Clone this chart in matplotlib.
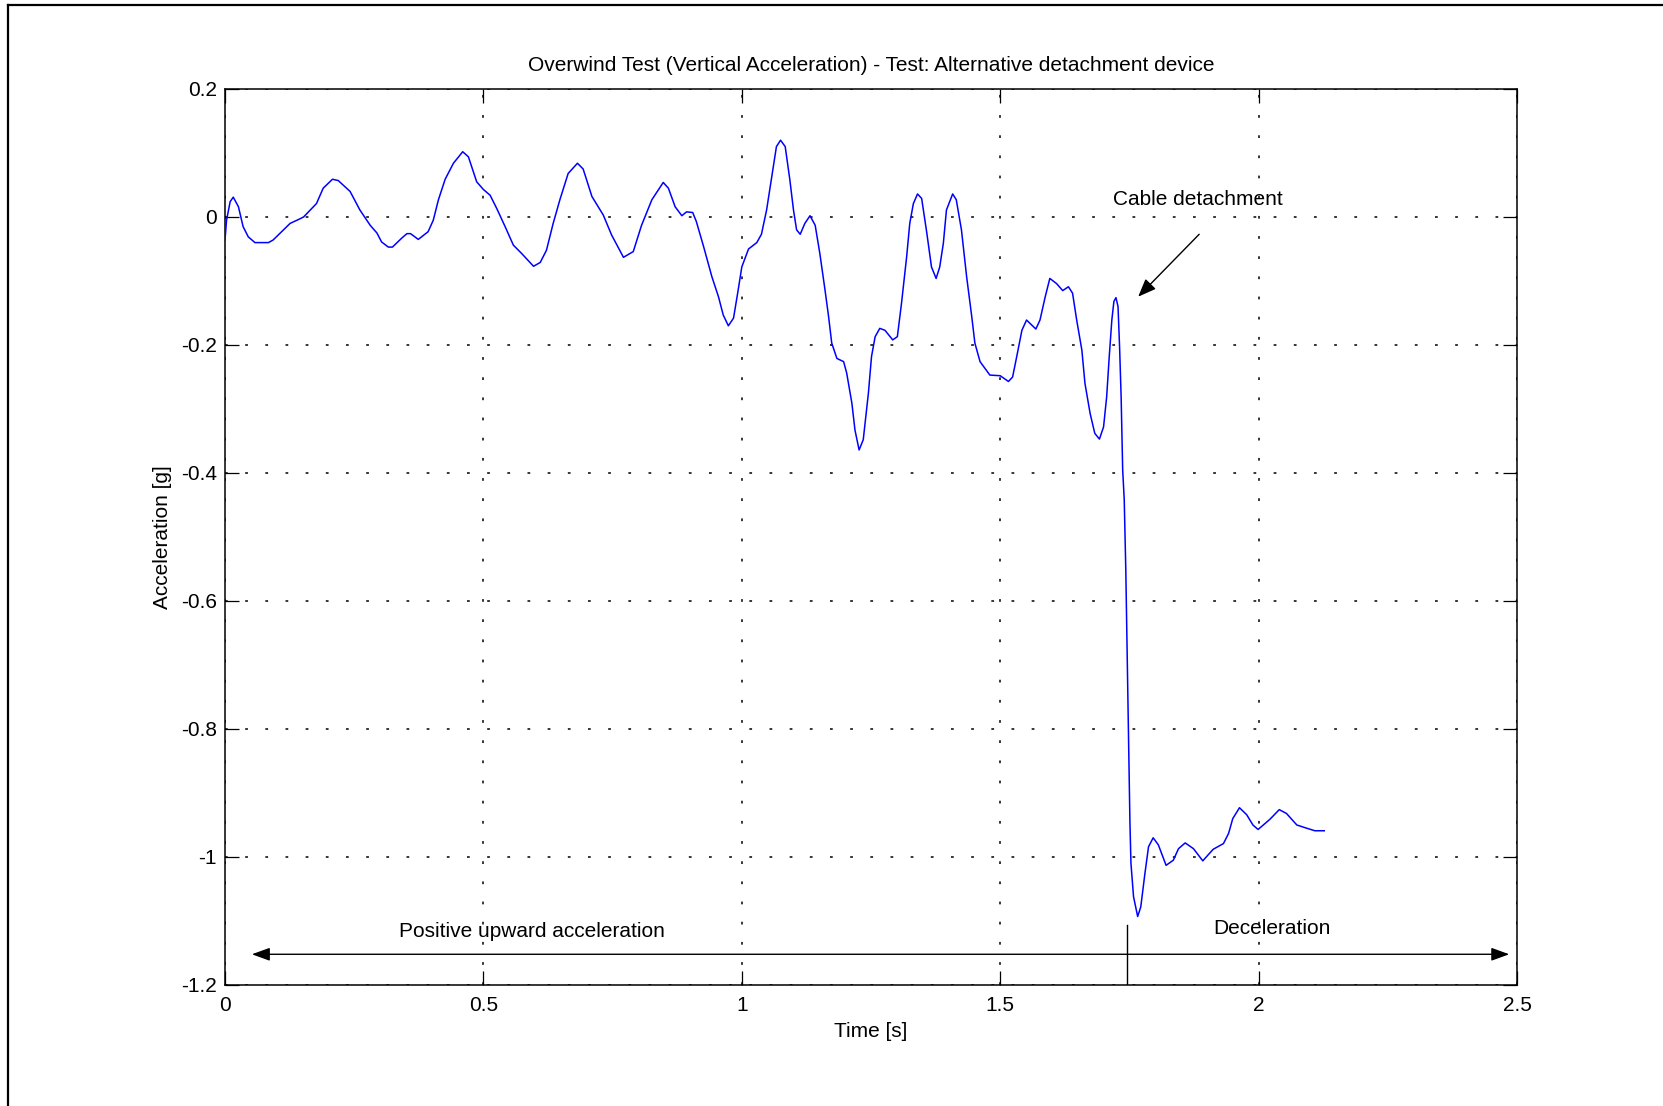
import matplotlib
matplotlib.use("Agg")
import matplotlib.pyplot as plt
from matplotlib.lines import Line2D

# Overwind test: vertical acceleration of the conveyance [g] against time [s]
time_s = [
    0.000, 0.003, 0.010, 0.016, 0.026, 0.035, 0.045, 0.058, 0.084, 0.093,
    0.126, 0.142, 0.152, 0.177, 0.190, 0.208, 0.219, 0.242, 0.261, 0.281,
    0.294, 0.303, 0.316, 0.324, 0.342, 0.352, 0.359, 0.374, 0.393, 0.403,
    0.413, 0.426, 0.442, 0.460, 0.471, 0.487, 0.500, 0.513, 0.526, 0.542,
    0.558, 0.574, 0.597, 0.610, 0.622, 0.635, 0.648, 0.664, 0.682, 0.693,
    0.710, 0.732, 0.748, 0.771, 0.790, 0.806, 0.826, 0.848, 0.858, 0.871,
    0.884, 0.893, 0.905, 0.912, 0.926, 0.942, 0.955, 0.964, 0.974, 0.984,
    0.993, 1.000, 1.013, 1.029, 1.038, 1.048, 1.058, 1.067, 1.075, 1.084,
    1.093, 1.100, 1.106, 1.113, 1.122, 1.132, 1.142, 1.151, 1.161, 1.168,
    1.174, 1.184, 1.197, 1.203, 1.213, 1.219, 1.227, 1.235, 1.245, 1.251,
    1.258, 1.267, 1.277, 1.292, 1.301, 1.309, 1.319, 1.325, 1.332, 1.340,
    1.348, 1.358, 1.367, 1.376, 1.383, 1.390, 1.396, 1.408, 1.415, 1.425,
    1.435, 1.445, 1.451, 1.461, 1.480, 1.500, 1.516, 1.524, 1.532, 1.542,
    1.551, 1.569, 1.577, 1.587, 1.596, 1.609, 1.621, 1.632, 1.640, 1.648,
    1.658, 1.664, 1.674, 1.683, 1.692, 1.700, 1.706, 1.711, 1.716, 1.720,
    1.724, 1.728, 1.731, 1.734, 1.737, 1.740, 1.743, 1.745, 1.747, 1.749,
    1.751, 1.753, 1.758, 1.766, 1.772, 1.780, 1.787, 1.796, 1.806, 1.821,
    1.835, 1.845, 1.858, 1.874, 1.892, 1.912, 1.932, 1.942, 1.950, 1.963,
    1.977, 1.989, 1.999, 2.022, 2.040, 2.054, 2.074, 2.093, 2.109, 2.127,
]
accel_g = [
    -0.036, -0.005, 0.024, 0.031, 0.016, -0.015, -0.031, -0.040, -0.040, -0.036,
    -0.010, -0.004, 0.000, 0.021, 0.045, 0.059, 0.057, 0.040, 0.011, -0.013,
    -0.025, -0.039, -0.047, -0.047, -0.033, -0.026, -0.026, -0.035, -0.023, -0.005,
    0.027, 0.059, 0.084, 0.102, 0.094, 0.055, 0.043, 0.034, 0.013, -0.015,
    -0.044, -0.057, -0.077, -0.071, -0.052, -0.010, 0.027, 0.068, 0.084, 0.075,
    0.032, 0.003, -0.028, -0.063, -0.054, -0.013, 0.027, 0.054, 0.045, 0.016,
    0.002, 0.008, 0.007, -0.007, -0.046, -0.093, -0.125, -0.153, -0.170, -0.158,
    -0.114, -0.078, -0.050, -0.040, -0.027, 0.011, 0.063, 0.110, 0.120, 0.110,
    0.058, 0.011, -0.020, -0.027, -0.010, 0.002, -0.013, -0.057, -0.114, -0.156,
    -0.197, -0.221, -0.226, -0.244, -0.291, -0.333, -0.364, -0.348, -0.275, -0.218,
    -0.187, -0.174, -0.177, -0.192, -0.187, -0.135, -0.062, -0.010, 0.021, 0.036,
    0.029, -0.025, -0.078, -0.096, -0.078, -0.041, 0.011, 0.036, 0.027, -0.020,
    -0.093, -0.156, -0.197, -0.226, -0.247, -0.248, -0.257, -0.250, -0.218, -0.177,
    -0.161, -0.175, -0.161, -0.125, -0.096, -0.104, -0.115, -0.109, -0.119, -0.161,
    -0.208, -0.260, -0.307, -0.338, -0.347, -0.328, -0.281, -0.218, -0.161, -0.132,
    -0.126, -0.140, -0.203, -0.281, -0.395, -0.442, -0.550, -0.650, -0.750, -0.850,
    -0.945, -1.010, -1.062, -1.093, -1.078, -1.026, -0.984, -0.970, -0.981, -1.013,
    -1.005, -0.987, -0.978, -0.987, -1.006, -0.988, -0.979, -0.963, -0.940, -0.923,
    -0.934, -0.950, -0.957, -0.941, -0.926, -0.932, -0.950, -0.955, -0.959, -0.959,
]

x_ticks = [0, 0.5, 1, 1.5, 2, 2.5]
x_tick_labels = ["0", "0.5", "1", "1.5", "2", "2.5"]
y_ticks = [-1.2, -1.0, -0.8, -0.6, -0.4, -0.2, 0.0, 0.2]
y_tick_labels = ["-1.2", "-1", "-0.8", "-0.6", "-0.4", "-0.2", "0", "0.2"]

title = "Overwind Test (Vertical Acceleration) - Test: Alternative detachment device"
x_label = "Time [s]"
y_label = "Acceleration [g]"

# Annotation anchors (data coordinates)
detach_label = "Cable detachment"
detach_label_xy = (1.882, 0.027)
detach_arrow_tail = (1.885, -0.027)
detach_arrow_tip = (1.767, -0.1245)
phase_arrow_y = -1.152
phase_arrow_left = 0.052
phase_arrow_right = 2.485
phase_split_t = 1.746
phase_split_top = -1.107
upward_label = "Positive upward acceleration"
upward_label_xy = (0.593, -1.116)
decel_label = "Deceleration"
decel_label_xy = (2.026, -1.111)

plt.rcParams["font.family"] = ["Liberation Sans", "DejaVu Sans"]
plt.rcParams["axes.unicode_minus"] = False

fig = plt.figure(figsize=(16.63, 11.06), dpi=100)
fig.patch.set_facecolor("white")
ax = fig.add_axes([225 / 1663, 1 - 985 / 1106, 1292 / 1663, 896 / 1106])

ax.plot(time_s, accel_g, color=(0, 0, 1), linewidth=1.1, zorder=3)

ax.set_xlim(0, 2.5)
ax.set_ylim(-1.2, 0.2)
ax.set_xticks(x_ticks)
ax.set_xticklabels(x_tick_labels)
ax.set_yticks(y_ticks)
ax.set_yticklabels(y_tick_labels)

fs = 15
ax.tick_params(direction="in", length=10, width=0.9, top=True, right=True,
               labelsize=fs, colors="black")
ax.tick_params(axis="x", pad=8)
ax.tick_params(axis="y", pad=6)
for sp in ax.spines.values():
    sp.set_linewidth(1.1)
    sp.set_color("black")

ax.grid(True, color="black", linewidth=1.1, linestyle=(0, (1.8, 11.4)))

ax.set_title(title, fontsize=fs, pad=13)
ax.set_xlabel(x_label, fontsize=fs, labelpad=5)
ax.set_ylabel(y_label, fontsize=fs, labelpad=6)

# Cable detachment marker
ax.text(*detach_label_xy, detach_label, fontsize=fs, ha="center", va="center")
ax.annotate("", xy=detach_arrow_tip, xytext=detach_arrow_tail,
            arrowprops=dict(arrowstyle="-|>,head_length=0.55,head_width=0.22",
                            mutation_scale=20, color="black", linewidth=1.0,
                            shrinkA=0, shrinkB=0))

# Phase span arrow along the bottom
ax.annotate("", xy=(phase_arrow_right, phase_arrow_y),
            xytext=(phase_arrow_left, phase_arrow_y),
            arrowprops=dict(arrowstyle="<|-|>,head_length=0.55,head_width=0.2",
                            mutation_scale=20, color="black", linewidth=1.0,
                            shrinkA=0, shrinkB=0))
ax.plot([phase_split_t, phase_split_t], [phase_split_top, -1.2],
        color="black", linewidth=1.0, zorder=4)
ax.text(*upward_label_xy, upward_label, fontsize=fs, ha="center", va="center")
ax.text(*decel_label_xy, decel_label, fontsize=fs, ha="center", va="center")

# Outer frame (left and top edges)
fig.add_artist(Line2D([8 / 1663, 8 / 1663], [0, 1 - 5 / 1106],
                      transform=fig.transFigure, color="black", linewidth=1.6))
fig.add_artist(Line2D([8 / 1663, 1], [1 - 5 / 1106, 1 - 5 / 1106],
                      transform=fig.transFigure, color="black", linewidth=1.6))

fig.savefig("out.png", dpi=100, facecolor="white")
